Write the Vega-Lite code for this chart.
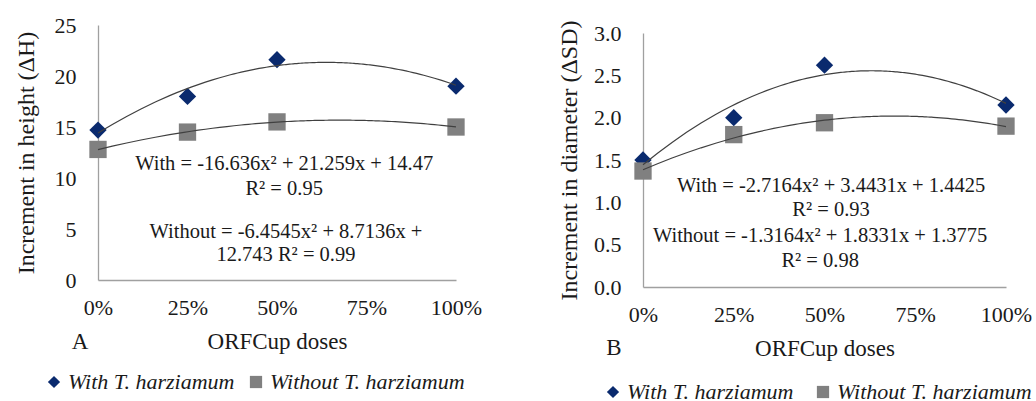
{
  "$schema": "https://vega.github.io/schema/vega-lite/v6.json",
  "padding": {"left": 13, "top": 14, "right": 0, "bottom": 0},
  "background": "white",
  "config": {
    "view": {"stroke": null},
    "font": "Liberation Serif",
    "text": {"font": "Liberation Serif"},
    "axis": {
      "domainColor": "#A0A0A0",
      "domainWidth": 1.3,
      "ticks": false,
      "grid": false,
      "labelFlush": false,
      "labelFont": "Liberation Serif",
      "labelFontSize": 22,
      "labelColor": "#1a1a1a",
      "titleFont": "Liberation Serif",
      "titleFontSize": 23,
      "titleFontWeight": "normal",
      "titleColor": "#1a1a1a"
    },
    "legend": {
      "labelFont": "Liberation Serif",
      "labelFontSize": 22,
      "labelFontStyle": "italic",
      "labelColor": "#1a1a1a",
      "labelLimit": 0,
      "symbolSize": 150,
      "symbolStrokeWidth": 0,
      "padding": 0,
      "labelOffset": 3,
      "columnPadding": 10
    }
  },
  "datasets": {
    "height": [
      {"dose": 0, "value": 14.7, "series": "With T. harziamum"},
      {"dose": 0.25, "value": 18.0, "series": "With T. harziamum"},
      {"dose": 0.5, "value": 21.6, "series": "With T. harziamum"},
      {"dose": 1, "value": 19.0, "series": "With T. harziamum"},
      {"dose": 0, "value": 12.8, "series": "Without T. harziamum"},
      {"dose": 0.25, "value": 14.5, "series": "Without T. harziamum"},
      {"dose": 0.5, "value": 15.5, "series": "Without T. harziamum"},
      {"dose": 1, "value": 15.0, "series": "Without T. harziamum"}
    ],
    "diameter": [
      {"dose": 0, "value": 1.5, "series": "With T. harziamum"},
      {"dose": 0.25, "value": 2.0, "series": "With T. harziamum"},
      {"dose": 0.5, "value": 2.62, "series": "With T. harziamum"},
      {"dose": 1, "value": 2.15, "series": "With T. harziamum"},
      {"dose": 0, "value": 1.37, "series": "Without T. harziamum"},
      {"dose": 0.25, "value": 1.8, "series": "Without T. harziamum"},
      {"dose": 0.5, "value": 1.94, "series": "Without T. harziamum"},
      {"dose": 1, "value": 1.9, "series": "Without T. harziamum"}
    ]
  },
  "hconcat": [
    {
      "width": 358,
      "height": 255,
      "data": {"name": "height"},
      "layer": [
        {
          "mark": {"type": "point", "filled": true, "opacity": 1, "size": 300},
          "encoding": {
            "x": {"field": "dose", "type": "quantitative", "scale": {"domain": [0, 1], "nice": false},
              "axis": {"values": [0, 0.25, 0.5, 0.75, 1], "format": ".0%", "labelPadding": 17, "titlePadding": 12, "title": "ORFCup doses"}},
            "y": {"field": "value", "type": "quantitative", "scale": {"domain": [0, 25], "nice": false},
              "axis": {"values": [0, 5, 10, 15, 20, 25], "labelPadding": 22, "titlePadding": 16, "titleFontSize": 24, "title": "Increment  in height (ΔH)"}},
            "color": {"field": "series", "type": "nominal",
              "scale": {"domain": ["With T. harziamum", "Without T. harziamum"], "range": ["#0A2A6E", "#808080"]},
              "legend": {"orient": "none", "legendX": -55, "legendY": 346, "direction": "horizontal", "title": null}},
            "shape": {"field": "series", "type": "nominal",
              "scale": {"domain": ["With T. harziamum", "Without T. harziamum"], "range": ["diamond", "square"]},
              "legend": {"orient": "none", "legendX": -55, "legendY": 346, "direction": "horizontal", "title": null}}
          }
        },
        {
          "transform": [{"regression": "value", "on": "dose", "groupby": ["series"], "method": "poly", "order": 2, "extent": [0, 1]}],
          "mark": {"type": "line", "color": "#404040", "strokeWidth": 1.2},
          "encoding": {
            "x": {"field": "dose", "type": "quantitative"},
            "y": {"field": "value", "type": "quantitative"},
            "detail": {"field": "series"}
          }
        },
        {
          "data": {"values": [{"label": "With = -16.636x²  + 21.259x + 14.47\nR² = 0.95"}]},
          "mark": {"type": "text", "fontSize": 20.5, "lineBreak": "\n", "lineHeight": 25, "align": "center", "baseline": "middle", "color": "#1a1a1a"},
          "encoding": {"x": {"datum": 0.52}, "y": {"datum": 11.37}, "text": {"field": "label"}}
        },
        {
          "data": {"values": [{"label": "Without = -6.4545x²  + 8.7136x +\n12.743  R² = 0.99"}]},
          "mark": {"type": "text", "fontSize": 20.5, "lineBreak": "\n", "lineHeight": 23, "align": "center", "baseline": "middle", "color": "#1a1a1a"},
          "encoding": {"x": {"datum": 0.525}, "y": {"datum": 4.71}, "text": {"field": "label"}}
        },
        {
          "data": {"values": [{"label": "A"}]},
          "mark": {"type": "text", "fontSize": 23, "align": "center", "baseline": "middle", "color": "#1a1a1a"},
          "encoding": {"x": {"datum": -0.05}, "y": {"datum": -6.08}, "text": {"field": "label"}}
        }
      ]
    },
    {
      "width": 363,
      "height": 262,
      "data": {"name": "diameter"},
      "layer": [
        {
          "mark": {"type": "point", "filled": true, "opacity": 1, "size": 300},
          "encoding": {
            "x": {"field": "dose", "type": "quantitative", "scale": {"domain": [0, 1], "nice": false},
              "axis": {"values": [0, 0.25, 0.5, 0.75, 1], "format": ".0%", "labelPadding": 17, "titlePadding": 12, "title": "ORFCup doses"}},
            "y": {"field": "value", "type": "quantitative", "scale": {"domain": [0, 3], "nice": false, "range": [262, 8]},
              "axis": {"values": [0, 0.5, 1, 1.5, 2, 2.5, 3], "format": ".1f", "labelPadding": 22, "titlePadding": 12, "titleFontSize": 24, "title": "Increment  in diameter (ΔSD)"}},
            "color": {"field": "series", "type": "nominal",
              "scale": {"domain": ["With T. harziamum", "Without T. harziamum"], "range": ["#0A2A6E", "#808080"]},
              "legend": {"orient": "none", "legendX": -41, "legendY": 356, "direction": "horizontal", "title": null, "columnPadding": 18}},
            "shape": {"field": "series", "type": "nominal",
              "scale": {"domain": ["With T. harziamum", "Without T. harziamum"], "range": ["diamond", "square"]},
              "legend": {"orient": "none", "legendX": -41, "legendY": 356, "direction": "horizontal", "title": null, "columnPadding": 18}}
          }
        },
        {
          "transform": [{"regression": "value", "on": "dose", "groupby": ["series"], "method": "poly", "order": 2, "extent": [0, 1]}],
          "mark": {"type": "line", "color": "#404040", "strokeWidth": 1.2},
          "encoding": {
            "x": {"field": "dose", "type": "quantitative"},
            "y": {"field": "value", "type": "quantitative"},
            "detail": {"field": "series"}
          }
        },
        {
          "data": {"values": [{"label": "With = -2.7164x²  + 3.4431x + 1.4425\nR² = 0.93"}]},
          "mark": {"type": "text", "fontSize": 20.5, "lineBreak": "\n", "lineHeight": 24, "align": "center", "baseline": "middle", "color": "#1a1a1a"},
          "encoding": {"x": {"datum": 0.518}, "y": {"datum": 1.193}, "text": {"field": "label"}}
        },
        {
          "data": {"values": [{"label": "Without = -1.3164x²  + 1.8331x + 1.3775\nR² = 0.98"}]},
          "mark": {"type": "text", "fontSize": 20.5, "lineBreak": "\n", "lineHeight": 25, "align": "center", "baseline": "middle", "color": "#1a1a1a"},
          "encoding": {"x": {"datum": 0.488}, "y": {"datum": 0.602}, "text": {"field": "label"}}
        },
        {
          "data": {"values": [{"label": "B"}]},
          "mark": {"type": "text", "fontSize": 23, "align": "center", "baseline": "middle", "color": "#1a1a1a"},
          "encoding": {"x": {"datum": -0.08}, "y": {"datum": -0.72}, "text": {"field": "label"}}
        }
      ]
    }
  ],
  "spacing": 187,
  "bounds": "flush",
  "resolve": {"legend": {"color": "independent", "shape": "independent"}, "scale": {"y": "independent"}}
}
